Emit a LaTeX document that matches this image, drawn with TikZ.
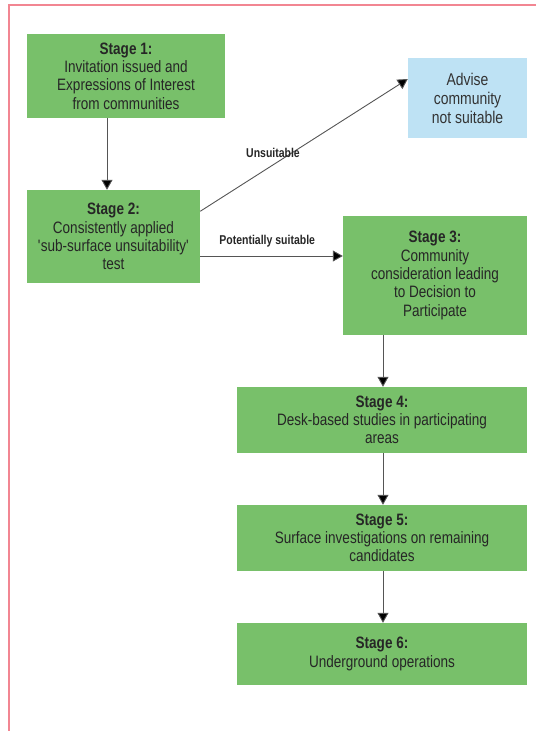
\documentclass[tikz,border=0pt]{standalone}
\usepackage{fontspec}
\setmainfont{Liberation Sans}[FakeStretch=0.82]
\usetikzlibrary{arrows.meta}
\definecolor{stagegreen}{RGB}{120,192,106}
\definecolor{advblue}{RGB}{190,226,244}
\definecolor{framepink}{RGB}{242,134,146}
\definecolor{linegray}{RGB}{85,85,85}
\begin{document}
\begin{tikzpicture}[x=1pt,y=-1pt,
  stagebox/.style={fill=stagegreen,draw=none,align=center,inner sep=0pt,
    font=\fontsize{16.5}{18.3}\selectfont,text=black!85},
  advbox/.style={fill=advblue,draw=none,align=center,inner sep=0pt,
    font=\fontsize{17}{19}\selectfont,text=black!80},
  conn/.style={draw=linegray,line width=0.9pt,-{Triangle[length=10pt,width=11pt,fill=black]}},
  lbl/.style={font=\bfseries\fontsize{12.8}{14}\selectfont,text=black!85}]
\useasboundingbox (0,0) rectangle (536,731);
\draw[framepink,line width=2.5pt] (536,5) -- (9,5) -- (9,731);
% boxes
\node[stagebox,minimum width=198pt,minimum height=84pt] (s1) at (126,76)
  {\textbf{Stage 1:}\\Invitation issued and\\Expressions of Interest\\from communities};
\node[advbox,minimum width=119pt,minimum height=80pt] (adv) at (467.5,98)
  {Advise\\community\\not suitable};
\node[stagebox,minimum width=173pt,minimum height=93pt] (s2) at (113.5,236.5)
  {\textbf{Stage 2:}\\Consistently applied\\\textquotesingle sub-surface unsuitability\textquotesingle\\test};
\node[stagebox,minimum width=184pt,minimum height=119pt] (s3) at (435,275.5)
  {\textbf{Stage 3:}\\Community\\consideration leading\\to Decision to\\Participate};
\node[stagebox,minimum width=290pt,minimum height=66pt] (s4) at (382,420)
  {\textbf{Stage 4:}\\Desk-based studies in participating\\areas};
\node[stagebox,minimum width=290pt,minimum height=66pt] (s5) at (382,538)
  {\textbf{Stage 5:}\\Surface investigations on remaining\\candidates};
\node[stagebox,minimum width=290pt,minimum height=62pt] (s6) at (382,654)
  {\textbf{Stage 6:}\\Underground operations};
% connectors
\draw[conn] (s1.south -| 107,0) -- (s2.north -| 107,0);
\draw[conn] (s2.east |- 0,256) -- node[lbl,above=5pt,pos=0.47]{Potentially suitable} (s3.west |- 0,256);
\coordinate (u1) at ([yshift=-21.5pt]s2.north east);
\coordinate (u2) at ([yshift=19pt]adv.west);
\draw[conn] (u1) -- (u2);
\node[lbl] (ulbl) at (273,153) {Unsuitable};
\draw[conn] (s3.south -| 383,0) -- (s4.north -| 383,0);
\draw[conn] (s4.south -| 383,0) -- (s5.north -| 383,0);
\draw[conn] (s5.south -| 383,0) -- (s6.north -| 383,0);
\end{tikzpicture}
\end{document}
